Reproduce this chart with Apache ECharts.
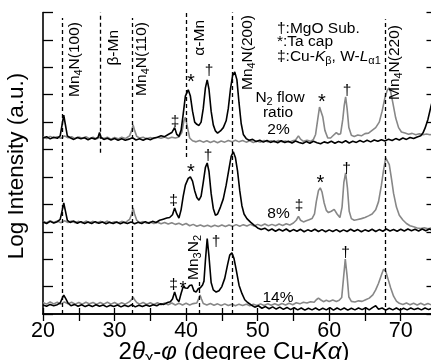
<!DOCTYPE html>
<html><head><meta charset="utf-8">
<script src="https://cdn.jsdelivr.net/npm/echarts/dist/echarts.min.js"></script>
<style>html,body{margin:0;padding:0;background:#fff}#c{width:431px;height:360px}</style>
</head><body><div id="c"></div>
<script>
const xTickLabels=[20,30,40,50,60,70];
// 2% film
const B2=[[20,6.42],[20.5,6.47],[21,6.39],[21.5,6.45],[22,6.41],[22.4,6.5],[22.7,6.95],[22.9,7.26],[23.1,6.95],[23.4,6.5],[23.8,6.43],[24.3,6.37],[24.8,6.44],[25.3,6.39],[25.8,6.43],[26.3,6.36],[26.8,6.42],[27.3,6.38],[27.7,6.45],[27.9,6.62],[28.1,6.44],[28.5,6.37],[29,6.41],[29.5,6.35],[30,6.4],[30.5,6.34],[31,6.39],[31.5,6.34],[32,6.38],[32.5,6.43],[33,6.35],[33.5,6.39],[34,6.34],[34.5,6.4],[35,6.36],[35.5,6.42],[36,6.45],[36.5,6.5],[37,6.47],[37.5,6.55],[38,6.62],[38.4,6.8],[38.7,6.55],[39,6.48],[39.3,6.7],[39.6,7.3],[39.9,7.95],[40.3,8.18],[40.6,7.95],[40.9,7.4],[41.2,7.0],[41.5,6.92],[41.8,6.88],[42.1,7.0],[42.4,7.5],[42.7,8.25],[42.95,8.54],[43.2,8.2],[43.5,7.4],[43.8,6.9],[44.1,6.68],[44.4,6.6],[44.8,6.68],[45.2,6.8],[45.6,7.05],[45.9,7.5],[46.2,8.2],[46.5,8.7],[46.8,8.83],[47.1,8.55],[47.4,7.7],[47.7,6.95],[48,6.55],[48.4,6.4],[48.8,6.34],[49.3,6.37],[49.8,6.29],[50.3,6.34],[50.8,6.27],[51.3,6.33],[51.8,6.26],[52.3,6.31],[52.8,6.25],[53.3,6.32],[53.8,6.26],[54.3,6.3],[54.8,6.24],[55.3,6.31],[55.8,6.26],[56.3,6.22],[56.8,6.29],[57.3,6.23],[57.8,6.3],[58.3,6.25],[58.8,6.21],[59.3,6.28],[59.8,6.24],[60.3,6.3],[60.8,6.23],[61.3,6.29],[61.8,6.25],[62.3,6.32],[62.8,6.24],[63.3,6.3],[63.8,6.26],[64.3,6.33],[64.8,6.27],[65.3,6.34],[65.8,6.28],[66.3,6.35],[66.8,6.3],[67.3,6.36],[67.8,6.31],[68.3,6.38],[68.8,6.33],[69.3,6.4],[69.8,6.35],[70.3,6.42],[70.8,6.37],[71.3,6.44],[71.8,6.4],[72.3,6.46],[72.8,6.5],[73.1,6.6],[73.4,6.78],[73.8,7.1],[74.2,7.55],[74.6,7.95],[75,8.3]];
const G2=[[20,6.46],[20.5,6.4],[21,6.48],[21.5,6.42],[22,6.47],[22.5,6.41],[23,6.5],[23.5,6.43],[24,6.47],[24.5,6.4],[25,6.46],[25.5,6.41],[26,6.47],[26.5,6.4],[27,6.45],[27.5,6.39],[28,6.46],[28.5,6.4],[29,6.45],[29.5,6.38],[30,6.44],[30.5,6.39],[31,6.45],[31.5,6.4],[32.1,6.5],[32.4,6.7],[32.6,6.9],[32.8,6.7],[33.1,6.48],[33.5,6.42],[34,6.45],[34.5,6.39],[35,6.44],[35.5,6.4],[36,6.45],[36.5,6.41],[37,6.46],[37.5,6.4],[38,6.45],[38.5,6.42],[39,6.46],[39.4,6.62],[39.7,7.05],[39.9,7.18],[40.2,6.8],[40.5,6.42],[40.9,6.32],[41.4,6.28],[41.9,6.33],[42.4,6.27],[42.9,6.32],[43.4,6.26],[43.9,6.31],[44.4,6.25],[44.9,6.31],[45.4,6.27],[45.9,6.33],[46.4,6.28],[46.9,6.34],[47.4,6.28],[47.9,6.33],[48.4,6.27],[48.9,6.32],[49.4,6.26],[49.9,6.31],[50.4,6.27],[50.9,6.33],[51.4,6.28],[51.9,6.32],[52.4,6.27],[52.9,6.33],[53.4,6.28],[53.9,6.31],[54.4,6.27],[54.9,6.32],[55.3,6.35],[55.7,6.5],[56.0,6.38],[56.4,6.3],[56.9,6.34],[57.4,6.3],[57.8,6.37],[58.1,6.55],[58.4,7.1],[58.65,7.55],[58.85,7.6],[59.1,7.2],[59.4,6.7],[59.8,6.42],[60.2,6.42],[60.6,6.52],[61.0,6.62],[61.3,6.55],[61.6,6.58],[61.9,7.1],[62.1,7.6],[62.3,7.92],[62.5,7.5],[62.75,6.8],[63.1,6.52],[63.5,6.48],[64,6.53],[64.5,6.5],[65,6.58],[65.5,6.6],[66,6.7],[66.5,6.8],[67,7.0],[67.4,7.4],[67.8,7.9],[68.1,8.15],[68.35,8.25],[68.6,8.1],[68.9,7.7],[69.3,7.15],[69.7,6.8],[70.1,6.64],[70.6,6.6],[71.1,6.56],[71.6,6.59],[72.1,6.54],[72.6,6.58],[73.1,6.54],[73.6,6.57],[74.1,6.54],[74.6,6.57],[75,6.55]];
// 8% film
const B8=[[20,3.36],[20.5,3.3],[21,3.38],[21.5,3.32],[22,3.37],[22.4,3.45],[22.7,3.8],[22.9,4.05],[23.1,3.8],[23.4,3.42],[23.8,3.34],[24.3,3.39],[24.8,3.31],[25.3,3.37],[25.8,3.3],[26.3,3.36],[26.8,3.3],[27.3,3.37],[27.8,3.31],[28.3,3.36],[28.8,3.29],[29.3,3.35],[29.8,3.3],[30.3,3.36],[30.8,3.29],[31.3,3.35],[31.8,3.3],[32.3,3.36],[32.8,3.29],[33.3,3.35],[33.8,3.3],[34.3,3.37],[34.8,3.31],[35.3,3.38],[35.8,3.34],[36.3,3.42],[36.8,3.46],[37.3,3.5],[37.7,3.52],[38.1,3.62],[38.4,3.87],[38.7,3.65],[39,3.5],[39.3,3.8],[39.6,4.3],[39.9,4.7],[40.3,4.95],[40.6,5.0],[40.9,4.85],[41.2,4.5],[41.5,4.25],[41.8,4.15],[42.1,4.3],[42.4,4.8],[42.7,5.35],[42.95,5.51],[43.2,5.2],[43.5,4.4],[43.8,3.85],[44.1,3.6],[44.4,3.65],[44.8,3.9],[45.2,4.2],[45.6,4.7],[46.0,5.3],[46.3,5.75],[46.6,5.92],[46.9,5.7],[47.2,5.2],[47.5,4.5],[47.8,3.95],[48.1,3.65],[48.5,3.48],[49,3.35],[49.5,3.24],[50,3.14],[50.5,3.08],[51,3.13],[51.5,3.04],[52,3.1],[52.5,3.02],[53,3.09],[53.5,3.03],[54,3.1],[54.5,3.01],[55,3.08],[55.5,3.02],[56,3.09],[56.5,3.0],[57,3.07],[57.5,3.02],[58,3.09],[58.5,3.01],[59,3.08],[59.5,3.0],[60,3.07],[60.5,3.01],[61,3.08],[61.5,3.0],[62,3.07],[62.5,3.01],[63,3.09],[63.5,3.02],[64,3.08],[64.5,3.0],[65,3.07],[65.5,3.02],[66,3.09],[66.5,3.01],[67,3.08],[67.5,3.02],[68,3.1],[68.5,3.03],[69,3.08],[69.5,3.02],[70,3.09],[70.5,3.03],[71,3.1],[71.5,3.04],[72,3.09],[72.5,3.03],[73,3.1],[73.5,3.04],[74,3.1],[74.5,3.05],[75,3.1]];
const G8=[[20,3.38],[20.5,3.33],[21,3.4],[21.5,3.34],[22,3.39],[22.5,3.33],[23,3.4],[23.5,3.34],[24,3.39],[24.5,3.33],[25,3.38],[25.5,3.32],[26,3.39],[26.5,3.33],[27,3.38],[27.5,3.32],[28,3.38],[28.5,3.33],[29,3.39],[29.5,3.32],[30,3.37],[30.5,3.32],[31,3.38],[31.5,3.33],[32.1,3.45],[32.4,3.65],[32.6,3.87],[32.8,3.65],[33.1,3.42],[33.5,3.33],[34,3.37],[34.5,3.31],[35,3.36],[35.5,3.3],[36,3.35],[36.5,3.29],[37,3.34],[37.5,3.28],[38,3.33],[38.5,3.27],[39,3.31],[39.5,3.25],[40,3.3],[40.5,3.22],[41,3.27],[41.5,3.2],[42,3.25],[42.5,3.19],[43,3.24],[43.5,3.18],[44,3.24],[44.5,3.19],[45,3.25],[45.5,3.19],[46,3.25],[46.5,3.2],[47,3.26],[47.5,3.2],[48,3.26],[48.5,3.21],[49,3.27],[49.5,3.21],[50,3.27],[50.5,3.22],[51,3.28],[51.5,3.22],[52,3.27],[52.5,3.22],[53,3.28],[53.5,3.23],[54,3.29],[54.5,3.25],[55,3.32],[55.4,3.42],[55.7,3.56],[56,3.42],[56.4,3.36],[56.8,3.4],[57.2,3.44],[57.6,3.48],[57.95,3.65],[58.2,4.1],[58.5,4.5],[58.75,4.6],[59,4.45],[59.3,4.05],[59.6,3.78],[59.9,3.7],[60.3,3.75],[60.7,3.82],[61.1,3.65],[61.5,3.52],[61.8,3.9],[62.05,4.8],[62.3,5.15],[62.55,4.6],[62.8,3.75],[63.1,3.48],[63.5,3.42],[64,3.45],[64.5,3.48],[65,3.52],[65.5,3.58],[66,3.65],[66.5,3.8],[66.9,4.1],[67.3,4.7],[67.6,5.25],[67.9,5.7],[68.15,5.73],[68.4,5.45],[68.7,4.95],[69,4.4],[69.4,3.9],[69.8,3.6],[70.3,3.43],[70.8,3.3],[71.3,3.22],[71.8,3.18],[72.3,3.14],[72.8,3.12],[73.3,3.15],[73.8,3.11],[74.3,3.14],[75,3.12]];
// 14% film
const B14=[[20,0.33],[20.5,0.28],[21,0.35],[21.5,0.3],[22,0.34],[22.4,0.4],[22.7,0.58],[22.9,0.69],[23.2,0.55],[23.5,0.4],[23.9,0.3],[24.4,0.35],[24.9,0.28],[25.4,0.34],[25.9,0.27],[26.4,0.33],[26.9,0.27],[27.4,0.34],[27.9,0.28],[28.4,0.33],[28.9,0.26],[29.4,0.32],[29.9,0.27],[30.4,0.33],[30.9,0.26],[31.4,0.32],[31.9,0.27],[32.4,0.34],[32.9,0.26],[33.4,0.32],[33.9,0.27],[34.4,0.33],[34.9,0.28],[35.4,0.34],[35.9,0.3],[36.4,0.37],[36.9,0.35],[37.4,0.42],[37.8,0.45],[38.1,0.55],[38.4,0.8],[38.7,0.55],[39,0.45],[39.3,0.75],[39.6,1.0],[39.9,0.95],[40.2,0.94],[40.5,1.04],[40.8,1.06],[41.1,0.84],[41.4,0.8],[41.7,0.92],[42,0.96],[42.3,1.06],[42.5,1.2],[42.7,1.95],[42.95,2.75],[43.2,2.1],[43.5,1.15],[43.8,0.88],[44.2,0.8],[44.6,0.85],[45,1.0],[45.4,1.3],[45.8,1.8],[46.1,2.15],[46.4,2.23],[46.7,2.02],[47,1.62],[47.4,1.05],[47.8,0.75],[48.2,0.52],[48.6,0.42],[49.1,0.33],[49.6,0.25],[50.1,0.3],[50.6,0.21],[51.1,0.27],[51.6,0.19],[52.1,0.26],[52.6,0.18],[53.1,0.25],[53.6,0.17],[54.1,0.24],[54.6,0.16],[55.1,0.23],[55.6,0.15],[56.1,0.22],[56.6,0.14],[57.1,0.21],[57.6,0.15],[58.1,0.22],[58.6,0.14],[59.1,0.21],[59.6,0.15],[60.1,0.23],[60.6,0.14],[61.1,0.22],[61.6,0.15],[62.1,0.22],[62.6,0.14],[63.1,0.21],[63.6,0.15],[64.1,0.22],[64.6,0.16],[65.1,0.23],[65.6,0.15],[66.1,0.24],[66.5,0.3],[66.9,0.17],[67.4,0.22],[67.9,0.14],[68.4,0.21],[68.9,0.15],[69.4,0.22],[69.9,0.14],[70.4,0.21],[70.9,0.15],[71.4,0.22],[71.9,0.16],[72.4,0.21],[72.9,0.15],[73.4,0.22],[73.9,0.16],[74.4,0.21],[75,0.17]];
const G14=[[20,0.42],[20.5,0.36],[21,0.44],[21.5,0.37],[22,0.43],[22.5,0.36],[23,0.44],[23.5,0.37],[24,0.43],[24.5,0.36],[25,0.42],[25.5,0.36],[26,0.43],[26.5,0.37],[27,0.42],[27.5,0.35],[28,0.42],[28.5,0.36],[29,0.43],[29.5,0.36],[30,0.42],[30.5,0.35],[31,0.41],[31.5,0.36],[32.1,0.45],[32.4,0.53],[32.6,0.62],[32.8,0.52],[33.1,0.42],[33.5,0.36],[34,0.42],[34.5,0.35],[35,0.41],[35.5,0.35],[36,0.41],[36.5,0.34],[37,0.4],[37.5,0.34],[38,0.4],[38.5,0.33],[39,0.39],[39.5,0.33],[40,0.39],[40.5,0.33],[41,0.38],[41.5,0.4],[41.75,0.55],[41.95,0.69],[42.15,0.55],[42.4,0.38],[42.9,0.33],[43.4,0.38],[43.9,0.32],[44.4,0.37],[44.9,0.31],[45.4,0.37],[45.9,0.31],[46.4,0.36],[46.9,0.3],[47.4,0.36],[47.9,0.31],[48.4,0.36],[48.9,0.3],[49.4,0.36],[49.9,0.31],[50.4,0.37],[50.9,0.31],[51.4,0.37],[51.9,0.32],[52.4,0.37],[52.9,0.32],[53.4,0.38],[53.9,0.33],[54.4,0.39],[54.9,0.34],[55.4,0.41],[55.9,0.37],[56.4,0.43],[56.9,0.4],[57.4,0.45],[57.9,0.43],[58.2,0.52],[58.5,0.58],[58.8,0.52],[59.2,0.45],[59.6,0.5],[60,0.46],[60.5,0.51],[61,0.46],[61.4,0.5],[61.75,0.6],[62.0,1.3],[62.25,2.0],[62.5,1.4],[62.75,0.62],[63.1,0.46],[63.6,0.44],[64.1,0.48],[64.6,0.46],[65.1,0.52],[65.6,0.58],[66.1,0.7],[66.5,0.88],[66.9,1.12],[67.3,1.42],[67.6,1.63],[67.9,1.56],[68.2,1.3],[68.6,0.95],[69,0.65],[69.4,0.47],[69.8,0.39],[70.3,0.35],[70.8,0.4],[71.3,0.34],[71.8,0.39],[72.3,0.33],[72.8,0.39],[73.3,0.33],[73.8,0.38],[74.3,0.33],[75,0.37]];
// reference peak positions (dashed lines): 2theta, lower and upper end on the y scale
const refX  =[22.7, 28.0, 32.5, 40.0, 46.5, 67.9, 41.9];
const refLo =[0,    5.88, 0,    5.73, 0,    0,    0];
const refHi =[10.8, 11,   10.8, 11,   11,   10.75,1.24];

const FONT='"Liberation Sans", Arial, Helvetica, sans-serif';
const GRAY='#878787', BLACK='#000';
function richSet(main, sub){
  const lh=Math.round(main*1.2);
  return {
    n:{fontSize:main,fontFamily:FONT,fill:'#000',lineHeight:lh},
    i:{fontSize:main,fontFamily:FONT,fontStyle:'italic',fill:'#000',lineHeight:lh},
    s:{fontSize:sub,fontFamily:FONT,fill:'#000',lineHeight:sub,verticalAlign:'bottom'},
    si:{fontSize:sub,fontFamily:FONT,fontStyle:'italic',fill:'#000',lineHeight:sub,verticalAlign:'bottom'}
  };
}
function txt(text,x,y,o){
  o=o||{};
  const size=o.size||15.5;
  return {type:'text',x:x,y:y,rotation:o.rot?Math.PI/2:0,silent:true,z:100,
    style:{text:text,rich:richSet(size,o.sub||Math.round(size*0.7)),align:o.align||'center',
      verticalAlign:'middle',fontSize:size,fontFamily:FONT,fill:'#000'}};
}
const R={rot:1,align:'right'}, L={align:'left'};
const annotations=[
  txt('{n|Mn}{s|4}{n|N(100)}',75,22,R),
  txt('β-Mn',113.5,30,R),
  txt('{n|Mn}{s|4}{n|N(110)}',141.5,22,R),
  txt('α-Mn',200,20,R),
  txt('{n|Mn}{s|4}{n|N(200)}',248,15,R),
  txt('{n|Mn}{s|4}{n|N(220)}',395,25,R),
  txt('{n|Mn}{s|3}{n|N}{s|2}',193.5,235,R),
  txt('†:MgO Sub.',277,28.5,L),
  txt('*:Ta cap',277,42,L),
  txt('{n|‡:Cu-}{i|K}{s|β}{n|, W-}{i|L}{s|α1}',277,56.5,L),
  txt('{n|N}{s|2}{n| flow}',280,97.5),
  txt('ratio',278,112.5),
  txt('2%',278.5,130),
  txt('8%',278.5,214),
  txt('14%',278,297.5),
  // peak markers
  txt('*',191,82,{size:20}), txt('†',209,71), txt('‡',175,122), txt('*',322,102,{size:20}), txt('†',347,91),
  txt('‡',173.5,201), txt('*',191,172,{size:20}), txt('†',208,156), txt('‡',299,206), txt('*',320.5,183,{size:20}), txt('†',346.5,169),
  txt('‡',173.5,285), txt('*',183,289,{size:18}), txt('†',216,242), txt('†',345.5,252.5),
  // axis titles
  txt('Log Intensity (a.u.)',16.5,166,{rot:1,size:22.5}),
  txt('{n|2}{i|θ}{s|χ}{n|-}{i|φ}{n| (degree Cu-}{i|Kα}{n|)}',234,352,{size:24,sub:16})
];

function line(name,data,color,z){
  return {name:name,type:'line',data:data,symbol:'none',showSymbol:false,silent:true,z:z,
    lineStyle:{color:color,width:1.6},itemStyle:{color:color},emphasis:{disabled:true}};
}
const axisLine={show:true,lineStyle:{color:'#000',width:1.6}};
const series=[line('G2',G2,GRAY,2),line('G8',G8,GRAY,2),line('G14',G14,GRAY,2),
              line('B2',B2,BLACK,3),line('B8',B8,BLACK,3),line('B14',B14,BLACK,3)];
series[0].markLine={symbol:['none','none'],silent:true,label:{show:false},animation:false,
  lineStyle:{color:'#000',type:[4,3],width:1.3},emphasis:{disabled:true},
  data:refX.map((x,i)=>[{coord:[x,refLo[i]]},{coord:[x,refHi[i]]}])};

const chart=echarts.init(document.getElementById('c'),null,{renderer:'canvas'});
chart.setOption({
  animation:false,backgroundColor:'#fff',
  grid:{left:43,top:12.5,width:393.5,height:301.5,containLabel:false,outerBoundsMode:'none'},
  xAxis:[
    {type:'value',min:20,max:75,interval:5,position:'bottom',axisLine:axisLine,
     axisTick:{show:true,inside:true,length:6,lineStyle:{color:'#000',width:1.3}},
     axisLabel:{formatter:v=>xTickLabels.indexOf(v)>=0?String(v):'',color:'#000',fontSize:21.5,fontFamily:FONT,margin:6,hideOverlap:false},
     splitLine:{show:false}},
    {type:'value',min:20,max:75,interval:5,position:'top',axisLine:axisLine,
     axisTick:{show:true,inside:true,length:7,lineStyle:{color:'#000',width:1.3}},
     axisLabel:{show:false},splitLine:{show:false}}
  ],
  yAxis:[
    {type:'value',min:0,max:11,interval:1,position:'left',axisLine:axisLine,
     axisTick:{show:true,inside:true,length:10,lineStyle:{color:'#000',width:1.3}},
     axisLabel:{show:false},splitLine:{show:false}},
    {type:'value',min:0,max:11,interval:1,position:'right',axisLine:axisLine,
     axisTick:{show:true,inside:true,length:10,lineStyle:{color:'#000',width:1.3}},
     axisLabel:{show:false},splitLine:{show:false}}
  ],
  series:series,
  graphic:annotations
});
</script></body></html>
